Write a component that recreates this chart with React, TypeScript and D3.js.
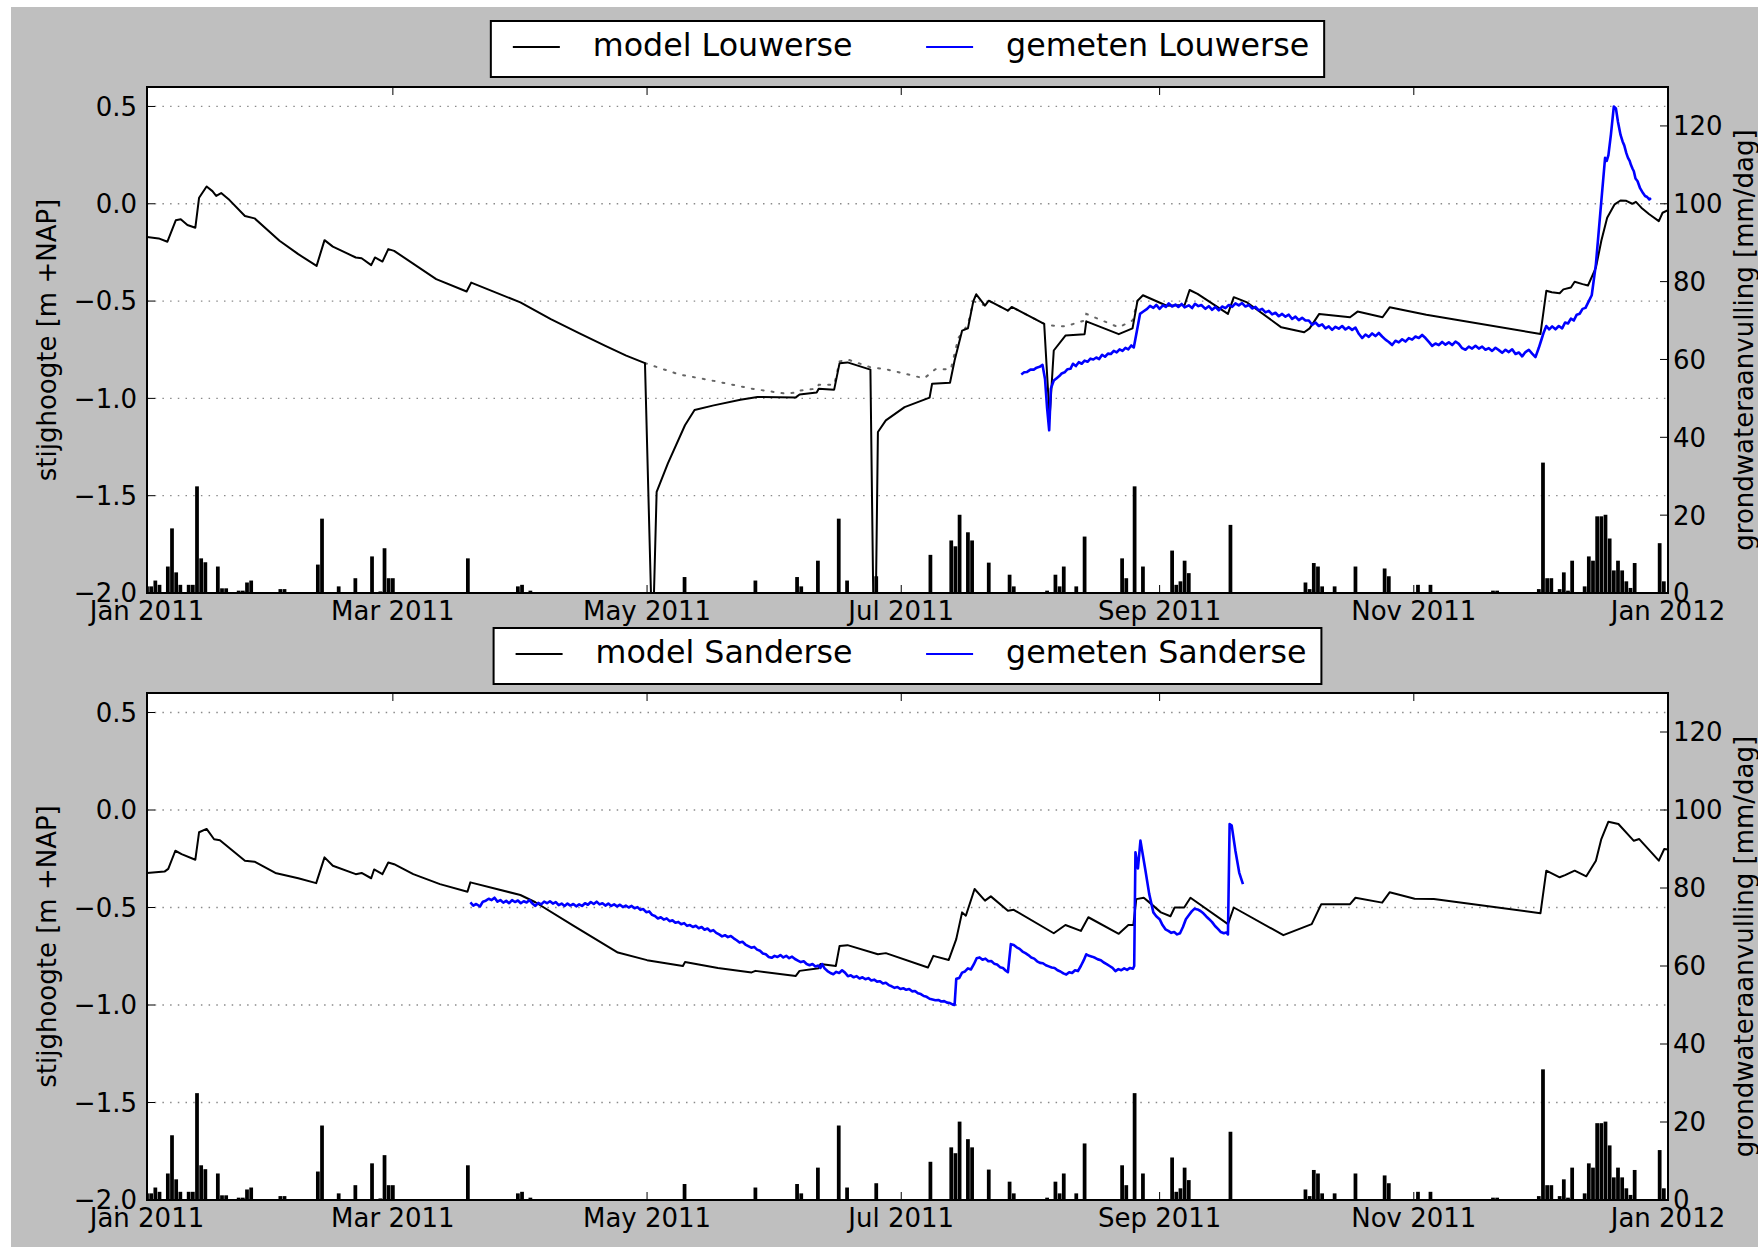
import React, { useRef, useEffect } from "react";
import * as d3 from "d3";

// [day since 2011-01-01, value]
type Pt = [number, number];

const leftTicks = [0.5, 0, -0.5, -1, -1.5, -2];
const rightTicks = [0, 20, 40, 60, 80, 100, 120];

const modelLouwerse: Pt[] = [
  [0, -0.171], [2.8, -0.178], [4.9, -0.195], [6.9, -0.085], [8.1, -0.08], [9.7, -0.109], [11.6, -0.123],
  [12.5, 0.031], [14.3, 0.089], [15.7, 0.065], [16.6, 0.04], [17.8, 0.055], [19.8, 0.019], [23.5, -0.063],
  [25.8, -0.075], [31.8, -0.19], [36.3, -0.259], [40.7, -0.319], [42.6, -0.187], [44.6, -0.22], [50.1, -0.276],
  [51.5, -0.28], [53.8, -0.315], [54.7, -0.276], [56.5, -0.297], [57.9, -0.233], [59.3, -0.242], [69.4, -0.387],
  [76.7, -0.451], [77.8, -0.405], [89.6, -0.507], [96.9, -0.593], [103.8, -0.666], [110, -0.73], [115, -0.78],
  [119.5, -0.819], [121, -2.05], [121.6, -2.05], [122.3, -1.48], [125, -1.334], [129.1, -1.138], [131.4, -1.06],
  [136, -1.036], [142.4, -1.007], [146.5, -0.993], [155.7, -0.995], [156.6, -0.98], [160.7, -0.97], [161.2, -0.95],
  [164.9, -0.955], [166.2, -0.819], [168.1, -0.815], [173.6, -0.852], [174.3, -2.05], [174.9, -2.05], [175.4, -1.173],
  [177.3, -1.113], [181.8, -1.045], [187.8, -0.996], [188.4, -0.925], [192.7, -0.92], [193.8, -0.805], [195.6, -0.652],
  [197, -0.64], [198.3, -0.5], [199, -0.465], [201.1, -0.523], [202, -0.498], [206.6, -0.549], [207.5, -0.53],
  [215.3, -0.617], [216.6, -1.1], [217.6, -0.754], [220.4, -0.677], [225, -0.67], [225.4, -0.604], [233.2, -0.67],
  [236.5, -0.64], [237.7, -0.498], [239, -0.47], [244.7, -0.524], [249, -0.52], [250.2, -0.443], [252.1, -0.463],
  [259.4, -0.566], [260.8, -0.48], [264, -0.507], [272.2, -0.635], [277.7, -0.66], [279, -0.64], [281.3, -0.566],
  [288.7, -0.583], [290.5, -0.554], [296.5, -0.583], [298.2, -0.532], [307, -0.57], [334.4, -0.669], [335.8, -0.447],
  [337.1, -0.455], [339, -0.46], [339.9, -0.44], [341.7, -0.43], [342.6, -0.401], [344.5, -0.413], [345.8, -0.42],
  [347.7, -0.328], [349, -0.19], [350.4, -0.072], [352.2, -0.003], [353.6, 0.017], [355, 0.015], [356.4, 0.0],
  [357.3, 0.01], [358.6, -0.02], [360.5, -0.054], [362.8, -0.089], [363.7, -0.046], [365, -0.033],
];

const dottedLouwerse: Pt[] = [
  [119.5, -0.819], [127.7, -0.877], [136, -0.91], [145.1, -0.95], [153, -0.975], [156.1, -0.97], [156.6, -0.96],
  [160.7, -0.95], [161.2, -0.93], [164.9, -0.93], [166.2, -0.81], [168.1, -0.8], [173.6, -0.84], [177.3, -0.85],
  [186.5, -0.897], [189.2, -0.85], [192.9, -0.85], [194.7, -0.69], [197, -0.62], [198.3, -0.5], [201.1, -0.523],
  [202, -0.498], [206.6, -0.549], [207.5, -0.53], [215.3, -0.617], [216.6, -0.625], [220.4, -0.63], [225, -0.6],
  [225.4, -0.566], [233.2, -0.635], [236.5, -0.6], [237.7, -0.498],
];

const gemetenLouwerse: Pt[] = [
  [209.8, -0.877], [210.5, -0.866], [211.2, -0.864], [212, -0.852], [212.8, -0.852], [213.5, -0.842], [214.2, -0.838],
  [214.9, -0.828], [215.5, -0.9], [216, -1.05], [216.5, -1.164], [216.9, -0.95], [217.6, -0.908], [218.3, -0.896],
  [219, -0.884], [219.5, -0.872], [220.2, -0.866], [220.9, -0.85], [221.6, -0.848], [222.2, -0.822], [222.9, -0.834],
  [223.6, -0.814], [224.3, -0.822], [225, -0.806], [225.7, -0.812], [226.4, -0.796], [227.1, -0.8], [227.8, -0.79],
  [228.5, -0.798], [229.2, -0.776], [229.9, -0.786], [230.6, -0.77], [231.3, -0.772], [232, -0.756], [232.7, -0.764],
  [233.4, -0.748], [234.1, -0.756], [234.8, -0.74], [235.5, -0.748], [236.2, -0.728], [236.8, -0.738], [237.4, -0.67],
  [238.3, -0.566], [239, -0.555],
  [240, -0.54], [240.7, -0.525], [241.5, -0.535], [242.2, -0.52], [243, -0.54], [243.8, -0.522], [244.5, -0.53],
  [245.2, -0.512], [246, -0.528], [246.8, -0.518], [247.5, -0.53], [248.3, -0.515], [249, -0.532], [250, -0.522],
  [250.8, -0.536], [251.5, -0.514], [252.3, -0.526], [253, -0.52], [254, -0.54], [254.8, -0.526], [255.6, -0.545],
  [256.4, -0.53], [257.2, -0.548], [258, -0.528], [258.8, -0.536], [259.6, -0.52], [260.4, -0.53], [261.2, -0.512],
  [262, -0.522], [262.8, -0.51], [263.6, -0.528], [264.4, -0.52], [265.2, -0.538], [266, -0.53], [266.8, -0.548],
  [267.6, -0.54], [268.4, -0.558], [269.2, -0.55], [270, -0.568], [270.8, -0.56], [271.6, -0.578], [272.4, -0.566],
  [273.2, -0.58], [274, -0.57], [274.8, -0.592], [275.6, -0.58], [276.4, -0.598], [277.2, -0.586], [278, -0.6],
  [278.8, -0.6], [279.6, -0.622], [280.4, -0.61], [281.2, -0.628], [282, -0.62], [282.8, -0.64], [283.6, -0.63],
  [284.4, -0.648], [285.2, -0.632], [286, -0.642], [286.8, -0.628], [287.6, -0.646], [288.4, -0.634], [289.2, -0.648],
  [290, -0.636], [290.8, -0.668], [291.6, -0.69], [292.4, -0.672], [293.2, -0.684], [294, -0.666], [294.8, -0.68],
  [295.6, -0.664], [296.4, -0.682], [297.2, -0.698], [298, -0.71], [298.8, -0.726], [299.6, -0.704], [300.4, -0.712],
  [301.2, -0.696], [302, -0.708], [302.8, -0.69], [303.6, -0.698], [304.4, -0.682], [305.2, -0.69], [306, -0.674],
  [306.8, -0.69], [307.6, -0.71], [308.4, -0.73], [309.2, -0.718], [310, -0.726], [310.8, -0.71], [311.6, -0.724],
  [312.4, -0.712], [313.2, -0.726], [314, -0.708], [314.8, -0.72], [315.6, -0.742], [316.4, -0.75], [317.2, -0.734],
  [318, -0.744], [318.8, -0.73], [319.6, -0.744], [320.4, -0.734], [321.2, -0.75], [322, -0.742], [322.8, -0.756],
  [323.6, -0.74], [324.4, -0.752], [325.2, -0.766], [326, -0.75], [326.8, -0.762], [327.6, -0.748], [328.4, -0.772],
  [329.2, -0.764], [330, -0.784], [330.8, -0.762], [331.6, -0.75], [332.4, -0.77], [333.2, -0.788], [334, -0.74],
  [334.6, -0.7], [335.2, -0.66], [335.8, -0.628], [336.5, -0.645], [337.2, -0.63], [338, -0.645], [338.8, -0.628],
  [339.6, -0.64], [340.3, -0.61], [341, -0.615], [341.7, -0.59], [342.4, -0.6], [343.1, -0.57], [343.8, -0.565],
  [344.5, -0.54], [345.2, -0.535], [346, -0.5], [346.7, -0.47], [347.7, -0.31], [349, 0.014], [349.9, 0.236],
  [350.3, 0.22], [350.7, 0.25], [351.3, 0.355], [352, 0.5], [352.5, 0.49], [353, 0.42], [353.6, 0.355], [354.1, 0.32],
  [354.5, 0.3], [355, 0.26], [355.4, 0.236], [355.8, 0.22], [356.1, 0.2], [356.5, 0.18], [356.8, 0.167], [357.2, 0.13],
  [357.7, 0.116], [358.3, 0.08], [359, 0.055], [359.5, 0.04], [360, 0.035], [360.5, 0.022], [360.9, 0.03],
];

const modelSanderse: Pt[] = [
  [0, -0.323], [4.2, -0.316], [5.1, -0.302], [6.8, -0.209], [8.3, -0.226], [11.6, -0.255], [12.5, -0.114],
  [14.3, -0.097], [16.1, -0.15], [17.5, -0.155], [23.5, -0.26], [25.8, -0.265], [30.8, -0.323], [36.3, -0.35],
  [40.6, -0.375], [42.6, -0.243], [44.6, -0.286], [50.1, -0.329], [51.5, -0.323], [53.8, -0.35], [54.5, -0.305],
  [56.5, -0.329], [57.9, -0.269], [59.3, -0.278], [63.9, -0.329], [70.3, -0.38], [76.9, -0.419], [77.6, -0.371],
  [89.6, -0.436], [93.2, -0.473], [102.4, -0.594], [113, -0.731], [120, -0.77], [128.6, -0.8], [129.1, -0.78],
  [137, -0.81], [145.1, -0.833], [146, -0.825], [155.7, -0.851], [156.6, -0.825], [161.2, -0.811], [161.6, -0.79],
  [165.3, -0.8], [166.2, -0.697], [168.1, -0.693], [175.4, -0.74], [177.3, -0.734], [187.4, -0.808], [188.7, -0.748],
  [192.4, -0.769], [194.2, -0.662], [195.6, -0.525], [196.5, -0.542], [198.6, -0.405], [201.1, -0.465],
  [202.5, -0.443], [206.6, -0.517], [208, -0.512], [217.6, -0.632], [220.4, -0.59], [224.1, -0.62], [225.9, -0.55],
  [233.2, -0.635], [235.5, -0.59], [236.7, -0.59], [237.4, -0.457], [239.2, -0.45], [240.6, -0.475],
  [243.3, -0.525], [245.6, -0.545], [246.6, -0.5], [248.9, -0.5], [250.4, -0.45], [259.4, -0.585], [260.8, -0.5],
  [272.7, -0.642], [279.5, -0.585], [281.8, -0.483], [288.7, -0.483], [290, -0.45], [296.4, -0.475],
  [298.2, -0.422], [304.2, -0.455], [308.8, -0.457], [334.4, -0.529], [335.8, -0.311], [339, -0.345],
  [340.3, -0.334], [342.6, -0.311], [345.4, -0.34], [347.7, -0.26], [349, -0.149], [350.7, -0.06], [353.1, -0.072],
  [356.8, -0.158], [358.1, -0.149], [362.8, -0.26], [364.1, -0.2], [365, -0.203],
];

const gemetenSanderse: Pt[] = [
  [77.6, -0.474], [78.3, -0.49], [79, -0.482], [79.9, -0.495], [80.6, -0.47], [81.3, -0.465], [82, -0.455],
  [82.7, -0.462], [83.4, -0.45], [84.1, -0.47], [84.8, -0.462], [85.5, -0.475], [86.2, -0.466], [86.9, -0.478],
  [87.6, -0.462], [88.3, -0.472], [89, -0.464], [89.7, -0.478], [90.4, -0.468], [91.1, -0.474], [91.8, -0.462],
  [92.5, -0.48], [93.2, -0.492], [93.9, -0.476], [94.6, -0.484], [95.3, -0.47], [96, -0.478], [96.7, -0.468],
  [97.4, -0.48], [98.1, -0.472], [98.8, -0.488], [99.5, -0.48], [100.2, -0.492], [100.9, -0.48], [101.6, -0.49],
  [102.3, -0.482], [103, -0.494], [103.7, -0.484], [104.4, -0.492], [105.1, -0.478], [105.8, -0.486], [106.5, -0.472],
  [107.2, -0.482], [107.9, -0.47], [108.6, -0.484], [109.3, -0.478], [110, -0.49], [110.7, -0.48], [111.4, -0.492],
  [112.1, -0.484], [112.8, -0.494], [113.5, -0.486], [114.2, -0.498], [114.9, -0.49], [115.6, -0.5], [116.3, -0.492],
  [117, -0.504], [117.7, -0.498], [118.4, -0.512], [119.1, -0.508], [119.8, -0.524], [120.5, -0.52], [121.2, -0.538],
  [121.9, -0.544], [122.6, -0.556], [123.3, -0.55], [124, -0.562], [124.7, -0.556], [125.4, -0.57], [126.1, -0.566],
  [126.8, -0.578], [127.5, -0.574], [128.2, -0.586], [128.9, -0.58], [129.6, -0.594], [130.3, -0.59], [131, -0.6],
  [131.7, -0.594], [132.4, -0.606], [133.1, -0.6], [133.8, -0.614], [134.5, -0.608], [135.2, -0.622], [135.9, -0.616],
  [136.6, -0.63], [137.3, -0.638], [138, -0.648], [138.7, -0.642], [139.4, -0.652], [140.1, -0.646], [140.8, -0.658],
  [141.5, -0.668], [142.2, -0.68], [142.9, -0.676], [143.6, -0.69], [144.3, -0.698], [145, -0.706], [145.7, -0.702],
  [146.4, -0.716], [147.1, -0.722], [147.8, -0.736], [148.5, -0.74], [149.2, -0.754], [149.9, -0.758], [150.6, -0.748],
  [151.3, -0.754], [152, -0.744], [152.7, -0.756], [153.4, -0.748], [154.1, -0.76], [154.8, -0.752], [155.5, -0.764],
  [156.2, -0.772], [156.9, -0.78], [157.6, -0.776], [158.3, -0.79], [159, -0.796], [159.7, -0.79], [160.4, -0.802],
  [161.1, -0.798], [161.6, -0.81], [162, -0.79], [162.6, -0.812], [163.3, -0.826], [164, -0.836], [164.7, -0.842],
  [165.4, -0.83], [166.1, -0.836], [166.8, -0.822], [167.5, -0.834], [168.2, -0.852], [168.9, -0.848], [169.6, -0.858],
  [170.3, -0.852], [171, -0.864], [171.7, -0.858], [172.4, -0.868], [173.1, -0.862], [173.8, -0.874], [174.5, -0.87],
  [175.2, -0.88], [175.9, -0.878], [176.6, -0.89], [177.3, -0.886], [178, -0.898], [178.7, -0.904], [179.4, -0.912],
  [180.1, -0.908], [180.8, -0.918], [181.5, -0.914], [182.2, -0.922], [182.9, -0.918], [183.6, -0.93], [184.3, -0.928],
  [185, -0.94], [185.7, -0.944], [186.4, -0.954], [187.1, -0.958], [187.8, -0.968], [188.5, -0.972], [189.2, -0.976],
  [189.9, -0.974], [190.6, -0.982], [191.3, -0.98], [192, -0.988], [192.7, -0.99], [193.4, -0.998], [193.8, -1.0],
  [194.2, -0.866], [194.9, -0.862], [195.6, -0.834], [196.3, -0.828], [197, -0.812], [197.7, -0.818], [198.4, -0.792],
  [199.1, -0.76], [199.8, -0.756], [200.5, -0.768], [201.2, -0.762], [201.9, -0.776], [202.6, -0.774], [203.3, -0.788],
  [204, -0.792], [204.7, -0.806], [205.4, -0.81], [206.1, -0.824], [206.6, -0.832], [207.3, -0.688], [208, -0.692],
  [208.7, -0.704], [209.4, -0.712], [210.1, -0.726], [210.8, -0.734], [211.5, -0.744], [212.2, -0.756], [212.9, -0.762],
  [213.6, -0.776], [214.3, -0.784], [215, -0.786], [215.7, -0.796], [216.4, -0.802], [217.1, -0.808], [217.8, -0.81],
  [218.5, -0.822], [219.2, -0.828], [219.9, -0.838], [220.6, -0.844], [221.3, -0.832], [222, -0.836], [222.7, -0.822],
  [223.4, -0.826], [224.1, -0.8], [224.8, -0.77], [225.4, -0.74], [226.1, -0.748], [226.8, -0.752], [227.5, -0.758],
  [228.2, -0.766], [228.9, -0.77], [229.6, -0.782], [230.3, -0.79], [231, -0.8], [231.7, -0.81], [232.4, -0.826],
  [233.1, -0.816], [233.8, -0.822], [234.5, -0.812], [235.2, -0.82], [235.9, -0.81], [236.6, -0.814], [236.9, -0.8],
  [237.2, -0.217], [237.8, -0.3], [238.4, -0.157], [239.6, -0.31], [240.5, -0.43], [241.5, -0.525], [242.2, -0.545],
  [243, -0.56], [243.7, -0.59], [244.4, -0.612], [245.1, -0.62], [245.8, -0.63], [246.5, -0.626], [247.2, -0.638],
  [247.9, -0.632], [248.6, -0.6], [249.3, -0.56], [250, -0.54], [250.7, -0.52], [251.4, -0.506], [252.1, -0.51],
  [252.8, -0.518], [253.5, -0.53], [254.2, -0.546], [254.9, -0.56], [255.6, -0.575], [256.3, -0.595], [257, -0.61],
  [257.7, -0.626], [258.4, -0.632], [259, -0.628], [259.4, -0.638], [259.8, -0.072], [260.3, -0.08], [261.2, -0.21],
  [262.1, -0.321], [263, -0.38],
];

// daily groundwater recharge [mm/dag], same for both panels
const aanvulling: Pt[] = [
  [0, 1.7], [1, 1.7], [2, 3.2], [3, 2.1], [5, 6.8], [6, 16.6], [7, 5.3], [8, 2.1], [10, 2.1], [11, 2.1], [12, 27.4],
  [13, 8.9], [14, 7.9], [17, 6.8], [18, 1.2], [19, 1.2], [22, 0.6], [23, 0.6], [24, 2.7], [25, 3.2], [32, 1.0],
  [33, 1.0], [41, 7.3], [42, 19.1], [46, 1.7], [50, 3.8], [54, 9.4], [56, 0.4], [57, 11.5], [58, 3.8], [59, 3.8],
  [77, 8.9], [89, 1.7], [90, 2.1], [92, 0.6], [129, 4.1], [146, 3.2], [156, 4.1], [157, 1.7], [161, 8.3],
  [166, 19.1], [168, 3.2], [175, 4.3], [188, 9.8], [193, 13.5], [194, 12], [195, 20.1], [197, 15.6], [198, 13.5],
  [202, 7.8], [207, 4.7], [208, 1.7], [216, 0.6], [218, 4.7], [219, 1.7], [220, 6.8], [223, 1.7], [225, 14.5],
  [234, 8.9], [235, 3.8], [237, 27.4], [239, 6.8], [246, 10.9], [247, 2.1], [248, 3.0], [249, 8.3], [250, 5.1],
  [260, 17.5], [278, 2.7], [279, 1.0], [280, 7.7], [281, 6.8], [282, 1.7], [285, 1.7], [290, 6.8], [297, 6.3],
  [298, 4.3], [305, 2.1], [308, 2.1], [323, 0.6], [324, 0.6], [334, 1.0], [335, 33.5], [336, 3.8], [337, 3.8],
  [339, 1.0], [340, 5.3], [341, 0.6], [342, 8.3], [345, 1.7], [346, 9.4], [347, 8.3], [348, 19.7], [349, 19.7],
  [350, 20.1], [351, 14], [352, 5.8], [353, 8.3], [354, 5.8], [355, 3.0], [356, 1.3], [357, 7.7], [363, 12.8],
  [364, 3.0],
];

const T0 = Date.UTC(2011, 0, 1);
const toDate = (d: number) => new Date(T0 + d * 86400000);

const FONT = "DejaVu Sans";

export default function App() {
  const svgRef = useRef<SVGSVGElement>(null);

  useEffect(() => {
    if (!svgRef.current) return;
    const svg = d3.select(svgRef.current);
    svg.selectAll("*").remove();

    const W = 1758, H = 1247;
    const left = 147, right = 1668;

    svg.append("rect").attr("width", W).attr("height", H).attr("fill", "#ffffff");
    svg.append("rect").attr("x", 11).attr("y", 7).attr("width", W - 11).attr("height", H - 7).attr("fill", "#bfbfbf");

    const x = d3.scaleUtc().domain([toDate(0), toDate(365)]).range([left, right]);
    const xTicks = x.ticks(d3.utcMonth.every(2)!);
    const fmt = d3.utcFormat("%b %Y");

    const panels = [
      { top: 87, bottom: 593, legendTop: 21, model: modelLouwerse, dotted: dottedLouwerse, measured: gemetenLouwerse,
        names: ["model Louwerse", "gemeten Louwerse"] },
      { top: 693, bottom: 1200, legendTop: 628, model: modelSanderse, dotted: null, measured: gemetenSanderse,
        names: ["model Sanderse", "gemeten Sanderse"] },
    ];

    panels.forEach((p, i) => {
      const y = d3.scaleLinear().domain([-2, 0.6]).range([p.bottom, p.top]);
      const y2 = d3.scaleLinear().domain([0, 130]).range([p.bottom, p.top]);
      const g = svg.append("g");
      const clipId = `clip-${i}`;
      g.append("clipPath").attr("id", clipId).append("rect")
        .attr("x", left).attr("y", p.top).attr("width", right - left).attr("height", p.bottom - p.top);

      g.append("rect").attr("x", left).attr("y", p.top).attr("width", right - left)
        .attr("height", p.bottom - p.top).attr("fill", "#ffffff");

      // dotted horizontal grid
      g.selectAll(".grid").data(leftTicks.filter(v => v > -2)).enter().append("line")
        .attr("x1", left).attr("x2", right)
        .attr("y1", d => y(d)).attr("y2", d => y(d))
        .attr("stroke", "#8a8a8a").attr("stroke-width", 1.3).attr("stroke-dasharray", "1.5,6.2");

      const plot = g.append("g").attr("clip-path", `url(#${clipId})`);

      const line = d3.line<Pt>().x(d => x(toDate(d[0]))).y(d => y(d[1]));

      if (p.dotted) {
        plot.append("path").attr("d", line(p.dotted)).attr("fill", "none")
          .attr("stroke", "#666").attr("stroke-width", 2).attr("stroke-dasharray", "2,8")
          .attr("stroke-linecap", "round");
      }
      plot.append("path").attr("d", line(p.model)).attr("fill", "none")
        .attr("stroke", "#000").attr("stroke-width", 2).attr("stroke-linejoin", "round");
      plot.append("path").attr("d", line(p.measured)).attr("fill", "none")
        .attr("stroke", "#0000ff").attr("stroke-width", 2.6).attr("stroke-linejoin", "round");

      // recharge bars on the twin axis
      const dayW = x(toDate(1)) - x(toDate(0));
      plot.selectAll(".bar").data(aanvulling).enter().append("rect")
        .attr("x", d => x(toDate(d[0])) - dayW * 0.45)
        .attr("width", dayW * 0.9)
        .attr("y", d => y2(d[1]))
        .attr("height", d => p.bottom - y2(d[1]))
        .attr("fill", "#000");

      // spines
      g.append("rect").attr("x", left).attr("y", p.top).attr("width", right - left)
        .attr("height", p.bottom - p.top).attr("fill", "none").attr("stroke", "#000").attr("stroke-width", 2);

      // x ticks (inward, top and bottom)
      xTicks.forEach(t => {
        const xx = x(t);
        g.append("line").attr("x1", xx).attr("x2", xx).attr("y1", p.bottom).attr("y2", p.bottom - 8)
          .attr("stroke", "#000").attr("stroke-width", 1);
        g.append("line").attr("x1", xx).attr("x2", xx).attr("y1", p.top).attr("y2", p.top + 8)
          .attr("stroke", "#000").attr("stroke-width", 1);
        g.append("text").attr("x", xx).attr("y", p.bottom + 27).attr("text-anchor", "middle")
          .attr("font-family", FONT).attr("font-size", 26).attr("fill", "#000").text(fmt(t));
      });

      // left ticks
      leftTicks.forEach(v => {
        g.append("line").attr("x1", left).attr("x2", left + 8).attr("y1", y(v)).attr("y2", y(v))
          .attr("stroke", "#000").attr("stroke-width", 1);
        g.append("text").attr("x", 137).attr("y", y(v)).attr("dy", "0.36em").attr("text-anchor", "end")
          .attr("font-family", FONT).attr("font-size", 26).attr("fill", "#000")
          .text(d3.format(".1f")(v).replace("-", "\u2212"));
      });

      // right ticks
      rightTicks.forEach(v => {
        g.append("line").attr("x1", right).attr("x2", right - 8).attr("y1", y2(v)).attr("y2", y2(v))
          .attr("stroke", "#000").attr("stroke-width", 1);
        g.append("text").attr("x", 1673).attr("y", y2(v)).attr("dy", "0.36em").attr("text-anchor", "start")
          .attr("font-family", FONT).attr("font-size", 26).attr("fill", "#000").text(String(v));
      });

      const midY = (p.top + p.bottom) / 2;
      g.append("text").attr("transform", `translate(56,${midY}) rotate(-90)`).attr("text-anchor", "middle")
        .attr("font-family", FONT).attr("font-size", 26).attr("fill", "#000").text("stijghoogte [m +NAP]");
      g.append("text").attr("transform", `translate(1753,${midY}) rotate(-90)`).attr("text-anchor", "middle")
        .attr("font-family", FONT).attr("font-size", 26).attr("fill", "#000").text("grondwateraanvulling [mm/dag]");

      // legend, two columns, centred above the axes
      const lg = svg.append("g");
      const box = lg.append("rect").attr("fill", "#fff").attr("stroke", "#000").attr("stroke-width", 2);
      const t1 = lg.append("text").attr("font-family", FONT).attr("font-size", 31.7).attr("fill", "#000").text(p.names[0]);
      const t2 = lg.append("text").attr("font-family", FONT).attr("font-size", 31.7).attr("fill", "#000").text(p.names[1]);
      const w1 = (t1.node() as SVGTextElement).getComputedTextLength();
      const w2 = (t2.node() as SVGTextElement).getComputedTextLength();
      const padL = 22, lineLen = 47, gap = 33, colGap = 73.5, padR = 15;
      const total = padL + lineLen + gap + w1 + colGap + lineLen + gap + w2 + padR;
      const bx = (left + right) / 2 - total / 2;
      const by = p.legendTop;
      box.attr("x", bx).attr("y", by).attr("width", total).attr("height", 56);
      const ly = by + 26;
      const c1 = bx + padL;
      lg.append("line").attr("x1", c1).attr("x2", c1 + lineLen).attr("y1", ly).attr("y2", ly)
        .attr("stroke", "#000").attr("stroke-width", 2);
      t1.attr("x", c1 + lineLen + gap).attr("y", by + 35);
      const c2 = c1 + lineLen + gap + w1 + colGap;
      lg.append("line").attr("x1", c2).attr("x2", c2 + lineLen).attr("y1", ly).attr("y2", ly)
        .attr("stroke", "#0000ff").attr("stroke-width", 2);
      t2.attr("x", c2 + lineLen + gap).attr("y", by + 35);
    });
  }, []);

  return (
    <svg
      ref={svgRef}
      width={1758}
      height={1247}
      style={{ position: "absolute", left: 0, top: 0, display: "block" }}
    />
  );
}
